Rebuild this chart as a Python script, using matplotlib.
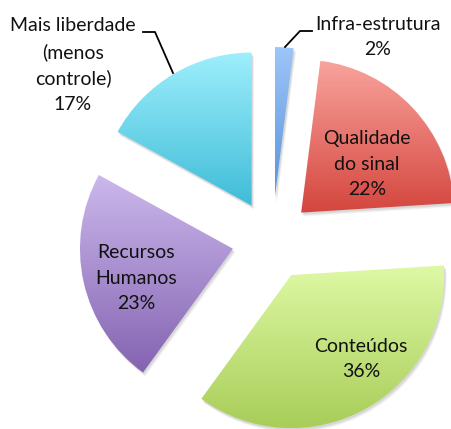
import numpy as np
import matplotlib.pyplot as plt
from matplotlib.patches import Wedge
from matplotlib.colors import LinearSegmentedColormap

# slices, clockwise from 12 o'clock
labels = ["Infra-estrutura", "Qualidade\ndo sinal", "Conteúdos",
          "Recursos\nHumanos", "Mais liberdade\n(menos\ncontrole)"]
shares = [2, 22, 36, 23, 17]
tops = ["#9dc5f8", "#f9a39d", "#def9a5", "#cbb8ec", "#9eeffc"]
bottoms = ["#5893dc", "#d4463e", "#a8cd58", "#8463b1", "#3fbcd8"]

H = 429
fig = plt.figure(figsize=(4.52, 4.29), dpi=100)
ax = fig.add_axes([0, 0, 1, 1])

cx, cy, r, gap = 272, H - 240, 153, 40
wedges, _ = ax.pie(shares, radius=r, center=(cx, cy), startangle=90,
                   counterclock=False, colors=["none"] * 5,
                   wedgeprops=dict(linewidth=0))

for w, c0, c1 in zip(wedges, tops, bottoms):
    mid = np.deg2rad((w.theta1 + w.theta2) / 2)
    w.set_center((cx + gap * np.cos(mid), cy + gap * np.sin(mid)))
    # soft shadow
    for k, a in [(4, 0.04), (3, 0.05), (2, 0.07)]:
        sh = Wedge((w.center[0] + k * 0.6, w.center[1] - k), r, w.theta1, w.theta2,
                   color="#000000", alpha=a, lw=0, zorder=1)
        ax.add_patch(sh)
    w.set_zorder(2)
    ext = w.get_path().get_extents()
    cmap = LinearSegmentedColormap.from_list("g", [c1, c0])
    grad = np.linspace(0, 1, 256).reshape(-1, 1)
    im = ax.imshow(grad, cmap=cmap, origin="lower", aspect="auto",
                   extent=(ext.x0, ext.x1, ext.y0, ext.y1), zorder=3)
    im.set_clip_path(w)

font = dict(family="Lato", fontsize=14, color="#111111", linespacing=1.6,
            ha="center", va="center", zorder=5)
ax.text(73, H - 65, "Mais liberdade\n(menos\ncontrole)\n17%", **font)
ax.text(378, H - 37, "Infra-estrutura\n2%", **font)
ax.text(367, H - 164, "Qualidade\ndo sinal\n22%", **font)
ax.text(136, H - 278, "Recursos\nHumanos\n23%", **font)
ax.text(361, H - 359, "Conteúdos\n36%", **font)

ax.plot([143, 155, 173], [H - 32, H - 32, H - 73], color="black", lw=1.3, zorder=6)
ax.plot([312, 300, 285], [H - 31, H - 31, H - 47], color="black", lw=1.3, zorder=6)

ax.set_xlim(0, 452)
ax.set_ylim(0, H)
ax.axis("off")
fig.savefig("out.png", dpi=100, facecolor="white")
